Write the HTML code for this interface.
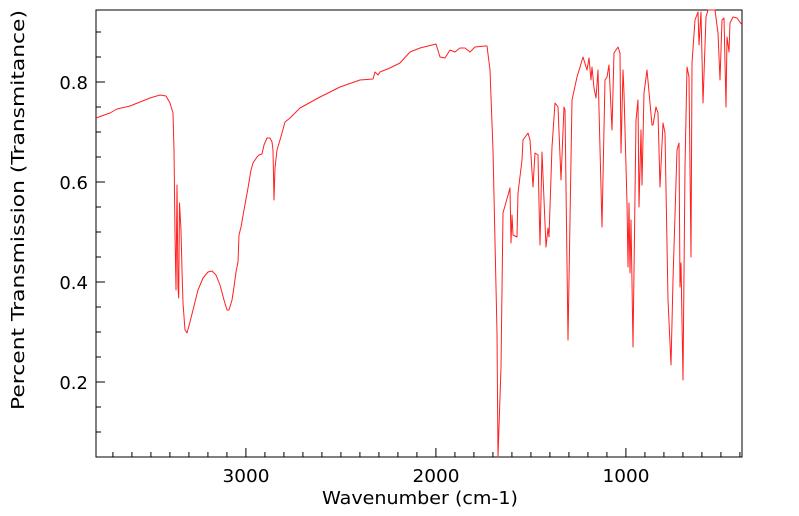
<!DOCTYPE html>
<html><head><style>
html,body{margin:0;padding:0;background:#fff;width:799px;height:516px;overflow:hidden}
text{font-family:"DejaVu Sans","Liberation Sans",sans-serif;fill:#000}
</style></head><body>
<svg width="799" height="516" xmlns="http://www.w3.org/2000/svg">
<rect x="96" y="10" width="646" height="447" fill="none" stroke="#000" stroke-width="1"/>
<g stroke="#000" stroke-width="1" id="ticks"></g>
<g font-size="18" text-anchor="middle">
<text x="246" y="482" textLength="47" lengthAdjust="spacingAndGlyphs">3000</text>
<text x="436" y="482" textLength="47" lengthAdjust="spacingAndGlyphs">2000</text>
<text x="626" y="482" textLength="47" lengthAdjust="spacingAndGlyphs">1000</text>
<text x="420" y="504" textLength="196" lengthAdjust="spacingAndGlyphs">Wavenumber (cm-1)</text>
</g>
<g font-size="18" text-anchor="end">
<text x="88" y="89">0.8</text>
<text x="88" y="189">0.6</text>
<text x="88" y="289">0.4</text>
<text x="88" y="389">0.2</text>
</g>
<text font-size="18" text-anchor="middle" textLength="400" lengthAdjust="spacingAndGlyphs" transform="translate(24,210) rotate(-90)">Percent Transmission (Transmitance)</text>
<polyline fill="none" stroke="#ff2020" stroke-width="1" stroke-linejoin="round" points="96,118 110,113 117,109 130,106 150,98 160,95 166,96 170,103 173,113 174,150 175,235 176,290 177,185 178,288 178.7,298 179.5,203 181,230 182,270 183,303 185,330 187,333 190,322 193,310 198,290 203,278 208,272 212,271 216,275 220,285 224,300 227,310 229,310 232,300 234,287 236,272 238,262 239,235 241,227 244,210 248,188 251,170 253,163 257,157 259,155 262,154 264,145 267,138 270,138 272,142 273,150 274,200 275,168 277,150 280,140 285,122 290,118 300,108 320,97 340,87 360,80 373,79 375,72 378,75 380,72 390,68 400,63 410,52 420,48 432,45 436,44 440,57 445,58 450,50 455,52 460,48 465,48 470,52 475,47 485,46 487,46 490,70 493,150 497,333 498,457 501,367 503,213 510,188 511,243 512,215 513,235 517,237 518,193 522,160 523,140 528,133 530,140 533,187 535,153 538,155 539,203 540,245 542,152 546,247 548,228 549,237 552,147 555,103 558,107 561,180 564,107 565,110 568,340 572,100 577,77 583,57 587,70 589,58 591,80 592,67 594,88 596,98 598,70 602,227 605,80 607,77 609,65 612,130 614,53 618,47 620,53 621,153 623,70 624,93 627,203 628,267 629,203 630,273 631,220 633,347 636,120 638,100 639,207 641,130 642,185 644,93 647,70 650,103 652,125 653,125 656,107 658,113 660,187 663,123 665,133 668,300 671,365 673,280 677,150 679,143 680,287 681,263 683,380 685,167 687,67 689,77 691,257 692,63 695,20 698,12 699,45 701,12 703,103 706,17 708,10 715,10 718,33 720,80 722,20 724,18 726,107 727,37 729,52 730,23 733,17 737,18 742,25"/>
</svg>
<script>
var g=document.getElementById('ticks'),s='';
for(var w=3700;w>=400;w-=100){var x=96+(3789-w)*0.19;var L=(w%1000==0)?9:5;s+='<line x1="'+x+'" y1="457" x2="'+x+'" y2="'+(457-L)+'"/>';}
for(var v=0.05;v<=0.95;v+=0.05){var y=82+(0.8-v)*500;if(y<10||y>457)continue;var big=Math.abs(v*10-Math.round(v*10))<0.01&&Math.round(v*10)%2==0;var L=big?9:5;s+='<line x1="96" y1="'+y+'" x2="'+(96+L)+'" y2="'+y+'"/>';}
g.innerHTML=s;
</script>
</body></html>
